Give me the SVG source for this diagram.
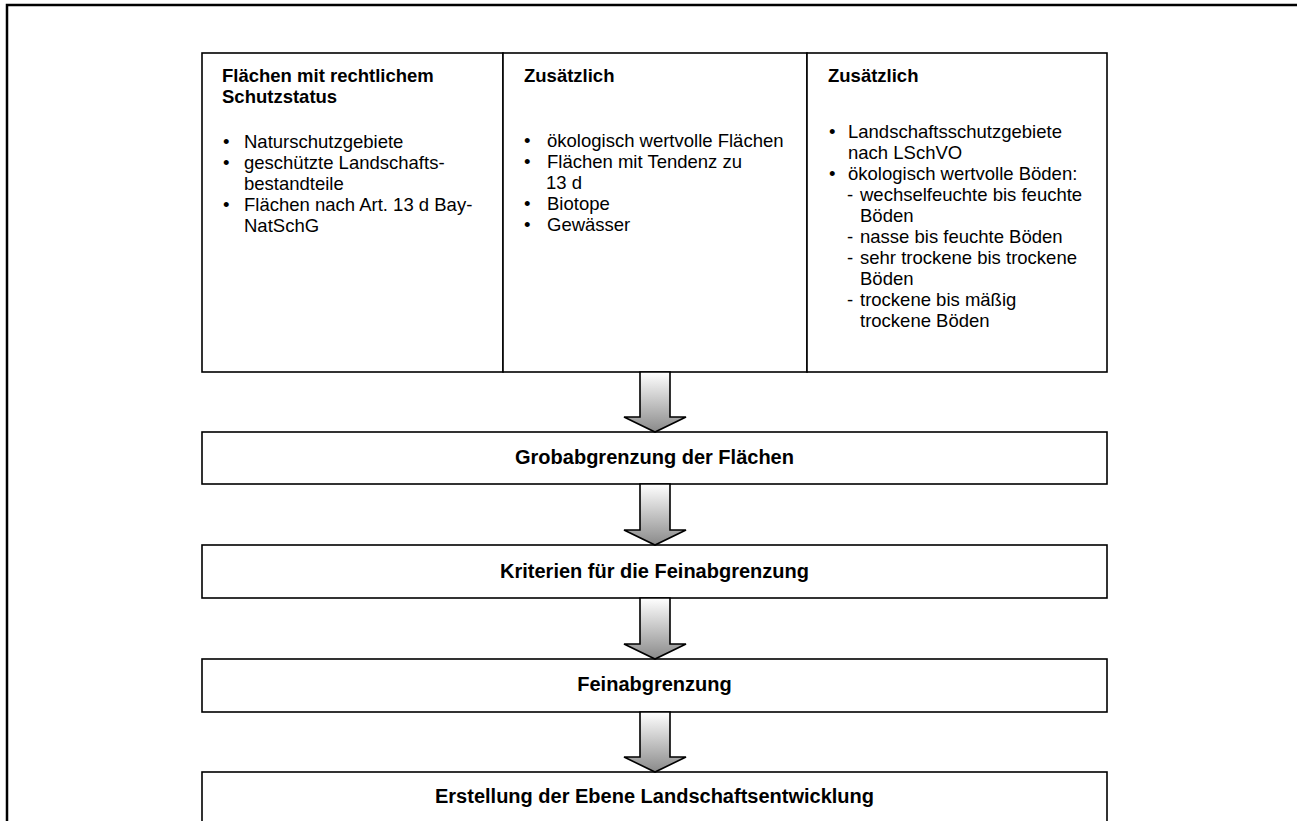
<svg xmlns="http://www.w3.org/2000/svg" width="1299" height="821" viewBox="0 0 1299 821">
<style>
.box{fill:#fff;stroke:#000;stroke-width:1.6}
.t{font-family:"Liberation Sans",Arial,sans-serif;font-size:18.5px;fill:#000}
.b{font-weight:bold}
.h{font-family:"Liberation Sans",Arial,sans-serif;font-size:20px;font-weight:bold;fill:#000;text-anchor:middle}
.arr{fill:url(#g);stroke:#000;stroke-width:1.6;stroke-linejoin:miter}
.frame{stroke:#000;stroke-width:2.5;fill:none}
</style>
<defs>
<linearGradient id="g" x1="0" y1="0" x2="0" y2="1">
<stop offset="0" stop-color="#ffffff"/>
<stop offset="1" stop-color="#8a8a8a"/>
</linearGradient>
</defs>
<rect width="1299" height="821" fill="#fff"/>
<path class="frame" d="M7,822 L7,5 L1297,5"/>

<g id="col1">
<rect class="box" x="202" y="53" width="301" height="319"/>
<text class="t b" x="222" y="82">Flächen mit rechtlichem</text>
<text class="t b" x="222" y="103">Schutzstatus</text>
<text class="t" x="223" y="148">•</text><text class="t" x="244" y="148">Naturschutzgebiete</text>
<text class="t" x="223" y="169">•</text><text class="t" x="244" y="169">geschützte Landschafts-</text>
<text class="t" x="244" y="190">bestandteile</text>
<text class="t" x="223" y="211">•</text><text class="t" x="244" y="211">Flächen nach Art. 13 d Bay-</text>
<text class="t" x="244" y="232">NatSchG</text>
</g>

<g id="col2">
<rect class="box" x="503" y="53" width="304" height="319"/>
<text class="t b" x="524" y="82">Zusätzlich</text>
<text class="t" x="524" y="147">•</text><text class="t" x="547" y="147">ökologisch wertvolle Flächen</text>
<text class="t" x="524" y="168">•</text><text class="t" x="547" y="168">Flächen mit Tendenz zu</text>
<text class="t" x="546" y="189">13 d</text>
<text class="t" x="524" y="210">•</text><text class="t" x="547" y="210">Biotope</text>
<text class="t" x="524" y="231">•</text><text class="t" x="547" y="231">Gewässer</text>
</g>

<g id="col3">
<rect class="box" x="807" y="53" width="300" height="319"/>
<text class="t b" x="828" y="82">Zusätzlich</text>
<text class="t" x="829" y="138">•</text><text class="t" x="848" y="138">Landschaftsschutzgebiete</text>
<text class="t" x="848" y="159">nach LSchVO</text>
<text class="t" x="829" y="180">•</text><text class="t" x="848" y="180">ökologisch wertvolle Böden:</text>
<text class="t" x="847" y="201">-</text><text class="t" x="860" y="201">wechselfeuchte bis feuchte</text>
<text class="t" x="860" y="222">Böden</text>
<text class="t" x="847" y="243">-</text><text class="t" x="860" y="243">nasse bis feuchte Böden</text>
<text class="t" x="847" y="264">-</text><text class="t" x="860" y="264">sehr trockene bis trockene</text>
<text class="t" x="860" y="285">Böden</text>
<text class="t" x="847" y="306">-</text><text class="t" x="860" y="306">trockene bis mäßig</text>
<text class="t" x="860" y="327">trockene Böden</text>
</g>

<g id="grob">
<rect class="box" x="202" y="432" width="905" height="52"/>
<text class="h" x="654.5" y="464">Grobabgrenzung der Flächen</text>
</g>
<g id="kriterien">
<rect class="box" x="202" y="545" width="905" height="53"/>
<text class="h" x="654.5" y="578">Kriterien für die Feinabgrenzung</text>
</g>
<g id="fein">
<rect class="box" x="202" y="659" width="905" height="53"/>
<text class="h" x="654.5" y="691">Feinabgrenzung</text>
</g>
<g id="erstellung">
<rect class="box" x="202" y="772" width="905" height="60"/>
<text class="h" x="654.5" y="803">Erstellung der Ebene Landschaftsentwicklung</text>
</g>

<g id="connectors">
<path class="arr" d="M640,372 L670,372 L670,417 L686,417 L655,432 L624,417 L640,417 Z"/>
<path class="arr" d="M640,484 L670,484 L670,530 L686,530 L655,545 L624,530 L640,530 Z"/>
<path class="arr" d="M640,598 L670,598 L670,644 L686,644 L655,659 L624,644 L640,644 Z"/>
<path class="arr" d="M640,712 L670,712 L670,757 L686,757 L655,772 L624,757 L640,757 Z"/>
</g>
</svg>
